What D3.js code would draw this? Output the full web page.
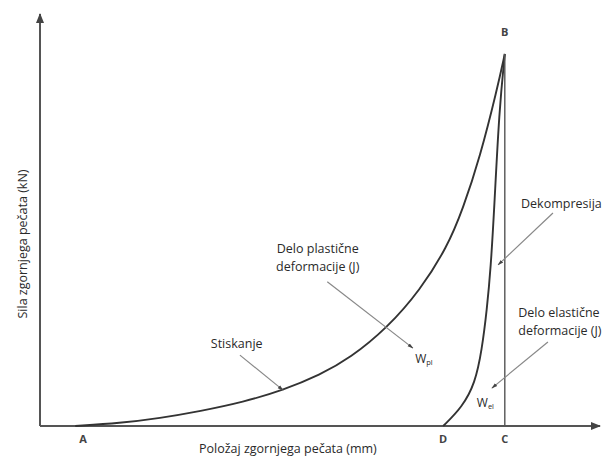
<!DOCTYPE html>
<html>
<head>
<meta charset="utf-8">
<script src="https://cdn.jsdelivr.net/npm/d3@7"></script>
<style>
  body { margin: 0; background: #fff; }
  #chart { width: 608px; height: 458px; }
  text { font-family: "Open Sans", sans-serif; fill: #2a2a2a; }
</style>
</head>
<body>
<div id="chart"></div>
<script>
// position of upper punch (arbitrary units 0..100) and force (0..100)
const compressionX = [6.3, 14.3, 21.4, 28.6, 36.3, 43.4, 50.0, 55.4, 62.0, 67.9, 72.7, 75.5, 78.6, 81.6, 83.0];
const compressionY = [0, 0.7, 1.9, 3.6, 5.8, 8.7, 12.4, 16.5, 23.8, 33.0, 43.4, 52.6, 65.4, 81.6, 90.3];

const decompressionX = [72.0, 75.4, 77.7, 78.9, 79.8, 80.5, 81.1, 82.0, 83.0];
const decompressionY = [0, 4.6, 10.4, 18.4, 28.2, 38.6, 52.4, 76.7, 90.3];

const pointNames = ["A", "B", "C", "D"];
const pointX = [7.7, 83.0, 83.0, 72.0];
const pointY = [0, 90.3, 0, 0];

const xLabel = "Položaj zgornjega pečata (mm)";
const yLabel = "Sila zgornjega pečata (kN)";

const container = d3.select("#chart");
const width = 608;
const height = 458;

const margin = { top: 14, right: 8, bottom: 32, left: 40 };

const svg = container.append("svg")
    .attr("width", width)
    .attr("height", height);

const x = d3.scaleLinear().domain([0, 100]).range([margin.left, width - margin.right]);
const y = d3.scaleLinear().domain([0, 100]).range([height - margin.bottom, margin.top]);

// arrow markers
const defs = svg.append("defs");
defs.append("marker")
    .attr("id", "axisArrow")
    .attr("viewBox", "0 0 10 10")
    .attr("refX", 9).attr("refY", 5)
    .attr("markerWidth", 5).attr("markerHeight", 5)
    .attr("orient", "auto")
    .append("path")
    .attr("d", "M0,1 L10,5 L0,9 Z")
    .style("fill", "#444");

defs.append("marker")
    .attr("id", "noteArrow")
    .attr("viewBox", "0 0 10 10")
    .attr("refX", 9).attr("refY", 5)
    .attr("markerWidth", 5).attr("markerHeight", 5)
    .attr("orient", "auto")
    .append("path")
    .attr("d", "M0,2 L10,5 L0,8 Z")
    .style("fill", "#444");

// axes (plain lines with arrows, no ticks)
svg.append("line")
    .attr("x1", x(0)).attr("y1", y(0))
    .attr("x2", x(0)).attr("y2", y(100))
    .style("stroke", "#555").style("stroke-width", 2)
    .attr("marker-end", "url(#axisArrow)");

svg.append("line")
    .attr("x1", x(0)).attr("y1", y(0))
    .attr("x2", x(100)).attr("y2", y(0))
    .style("stroke", "#555").style("stroke-width", 2)
    .attr("marker-end", "url(#axisArrow)");

svg.append("text")
    .attr("x", 199).attr("y", 453)
    .style("font-size", "12.5px")
    .text(xLabel);

svg.append("text")
    .attr("transform", `translate(27,${244}) rotate(-90)`)
    .attr("text-anchor", "middle")
    .style("font-size", "12.5px")
    .text(yLabel);

// curves
const line = d3.line()
    .x(d => x(d[0]))
    .y(d => y(d[1]))
    .curve(d3.curveBasis);

svg.append("path")
    .datum(d3.zip(compressionX, compressionY))
    .attr("d", line)
    .style("fill", "none")
    .style("stroke", "#333")
    .style("stroke-width", 1.9);

svg.append("path")
    .datum(d3.zip(decompressionX, decompressionY))
    .attr("d", line)
    .style("fill", "none")
    .style("stroke", "#333")
    .style("stroke-width", 1.9);

// vertical line C - B
svg.append("line")
    .attr("x1", x(pointX[2])).attr("y1", y(pointY[2]))
    .attr("x2", x(pointX[1])).attr("y2", y(pointY[1]))
    .style("stroke", "#555")
    .style("stroke-width", 1.4);

// point letters
svg.selectAll(".pt")
    .data(pointNames)
    .enter()
    .append("text")
    .attr("class", "pt")
    .attr("x", (d, i) => x(pointX[i]))
    .attr("y", (d, i) => d === "B" ? y(pointY[i]) - 18 : y(pointY[i]) + 17)
    .attr("text-anchor", "middle")
    .style("font-size", "11px")
    .style("font-weight", "bold")
    .style("fill", "#444")
    .text(d => d);

// annotations
const notes = [
    { lines: ["Stiskanje"], tx: 30.5, ty: 19.0, anchor: "start", from: [35.7, 17.2], to: [43.4, 8.7] },
    { lines: ["Delo plastične", "deformacije (J)"], tx: 49.6, ty: 42.0, anchor: "middle", from: [51.3, 35.0], to: [66.6, 18.9] },
    { lines: ["Dekompresija"], tx: 85.9, ty: 52.8, anchor: "start", from: [91.6, 51.7], to: [81.8, 39.1] },
    { lines: ["Delo elastične", "deformacije (J)"], tx: 85.4, ty: 26.5, anchor: "start", from: [90.7, 20.4], to: [80.7, 9.2] }
];

notes.forEach(n => {
    const t = svg.append("text")
        .attr("x", x(n.tx))
        .attr("y", y(n.ty))
        .attr("text-anchor", n.anchor)
        .style("font-size", "12.5px");
    n.lines.forEach((s, i) => {
        t.append("tspan")
            .attr("x", x(n.tx))
            .attr("dy", i === 0 ? 0 : 18)
            .text(s);
    });

    svg.append("line")
        .attr("x1", x(n.from[0])).attr("y1", y(n.from[1]))
        .attr("x2", x(n.to[0])).attr("y2", y(n.to[1]))
        .style("stroke", "#888")
        .style("stroke-width", 1.2)
        .attr("marker-end", "url(#noteArrow)");
});

// work symbols
const works = [
    { main: "W", sub: "pl", wx: 67.0, wy: 15.3 },
    { main: "W", sub: "el", wx: 78.0, wy: 4.6 }
];

works.forEach(w => {
    const t = svg.append("text")
        .attr("x", x(w.wx))
        .attr("y", y(w.wy))
        .style("font-size", "12px");
    t.append("tspan").text(w.main);
    t.append("tspan")
        .attr("dy", 2)
        .style("font-size", "7.5px")
        .text(w.sub);
});
</script>
</body>
</html>
